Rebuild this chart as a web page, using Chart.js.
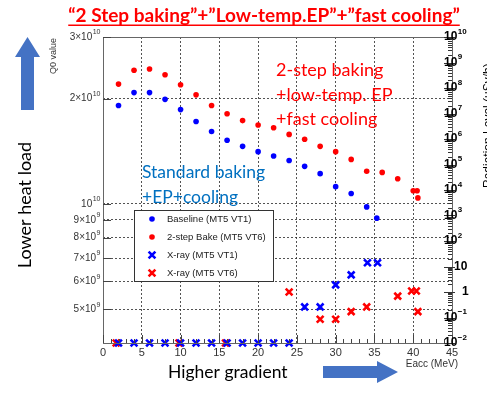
<!DOCTYPE html>
<html>
<head>
<meta charset="utf-8">
<script src="https://cdn.jsdelivr.net/npm/chart.js@4.4.1/dist/chart.umd.min.js"></script>
<style>
  html, body { margin: 0; padding: 0; background: #fff; }
  #wrap { width: 487px; height: 395px; position: relative; overflow: hidden; }
</style>
</head>
<body>
<div id="wrap"><canvas id="q0Chart" width="487" height="395"></canvas></div>
<script>
// Q0 vs Eacc (left log axis) and radiation level (right log axis)
const eaccBase = [2, 4, 6, 8, 10, 12, 14, 16, 18, 20, 22, 24, 26, 28, 30, 32, 34, 35.3];
const q0Base = [1.91e10, 2.08e10, 2.08e10, 1.99e10, 1.86e10, 1.72e10, 1.61e10, 1.52e10, 1.46e10,
  1.41e10, 1.37e10, 1.33e10, 1.28e10, 1.22e10, 1.12e10, 1.07e10, 9.8e9, 9.1e9];

const eaccBake = [2, 4, 6, 8, 10, 12, 14, 16, 18, 20, 22, 24, 26, 28, 30, 32, 34, 36, 38, 40, 40.5, 40.6];
const q0Bake = [2.20e10, 2.41e10, 2.43e10, 2.34e10, 2.19e10, 2.05e10, 1.91e10, 1.81e10, 1.73e10,
  1.68e10, 1.65e10, 1.58e10, 1.53e10, 1.46e10, 1.41e10, 1.34e10, 1.24e10, 1.23e10, 1.18e10,
  1.09e10, 1.09e10, 1.04e10];

const eaccXrayBase = [2, 4, 6, 8, 10, 12, 14, 16, 18, 20, 22, 24, 26, 28, 30, 32, 34.1, 35.4];
const doseBase = [0.01, 0.01, 0.01, 0.01, 0.01, 0.01, 0.01, 0.01, 0.01, 0.01, 0.01, 0.01,
  0.26, 0.26, 1.9, 4.7, 14, 14];

const eaccXrayBake = [1.7, 9.8, 15.8, 24, 28, 30, 32, 34, 38, 39.8, 40.4, 40.6];
const doseBake = [0.01, 0.01, 0.01, 1.0, 0.085, 0.085, 0.17, 0.26, 0.69, 1.1, 1.1, 0.17];

const xTicks = [0, 5, 10, 15, 20, 25, 30, 35, 40, 45];
const q0Ticks = [5e9, 6e9, 7e9, 8e9, 9e9, 1e10, 2e10, 3e10];
const q0Labels = [['5×10', '9'], ['6×10', '9'], ['7×10', '9'], ['8×10', '9'], ['9×10', '9'],
  ['10', '10'], ['2×10', '10'], ['3×10', '10']];
const doseExps = [-2, -1, 0, 1, 2, 3, 4, 5, 6, 7, 8, 9, 10];

const legendNames = ['Baseline (MT5 VT1)', '2-step Bake (MT5 VT6)', 'X-ray (MT5 VT1)', 'X-ray (MT5 VT6)'];

const BLUE = '#0000ff';
const RED = '#ff0000';
const AXIS_FONT = '"Liberation Sans", Arial, sans-serif';
const TEXT_FONT = 'Lato, "Open Sans", sans-serif';
const GRID_COLOR = 'rgba(40,40,40,0.8)';

const toPts = (xs, ys) => xs.map((x, i) => ({ x, y: ys[i] }));

const dotStyle = (color) => ({
  pointStyle: 'circle', pointRadius: 2.8, pointBackgroundColor: color,
  pointBorderColor: color, pointBorderWidth: 0, showLine: false, clip: false
});
const crossStyle = (color) => ({
  pointStyle: 'crossRot', pointRadius: 4.8, pointBorderColor: color,
  pointBackgroundColor: color, pointBorderWidth: 2.6, showLine: false, clip: false
});

// text with a superscript exponent; align = 'right' | 'left'
function drawPow(ctx, base, exp, x, y, size, weight, align) {
  const baseFont = `${weight} ${size}px ${AXIS_FONT}`;
  const supFont = `${weight} ${Math.round(size * 0.68)}px ${AXIS_FONT}`;
  ctx.font = baseFont;
  const wb = ctx.measureText(base).width;
  ctx.font = supFont;
  const we = exp ? ctx.measureText(exp).width : 0;
  const x0 = align === 'right' ? x - wb - we : x;
  ctx.textAlign = 'left';
  ctx.textBaseline = 'middle';
  ctx.font = baseFont;
  ctx.fillText(base, x0, y);
  if (exp) {
    ctx.font = supFont;
    ctx.fillText(exp, x0 + wb + 0.5, y - size * 0.45);
  }
}

function blockArrow(ctx, pts, color) {
  ctx.save();
  ctx.fillStyle = color;
  ctx.beginPath();
  pts.forEach(([x, y], i) => (i ? ctx.lineTo(x, y) : ctx.moveTo(x, y)));
  ctx.closePath();
  ctx.fill();
  ctx.restore();
}

const decorations = {
  id: 'decorations',
  afterDraw(chart) {
    const { ctx, chartArea: a, scales } = chart;
    const sx = scales.x, sy = scales.y, sy2 = scales.y2;
    ctx.save();

    // frame
    ctx.strokeStyle = '#666';
    ctx.lineWidth = 1;
    ctx.strokeRect(a.left + 0.5, a.top + 0.5, a.right - a.left, a.bottom - a.top);

    // x ticks (major every 5, minor every 1)
    ctx.strokeStyle = '#444';
    ctx.beginPath();
    for (let v = 0; v <= 45; v++) {
      const px = Math.round(sx.getPixelForValue(v)) + 0.5;
      const len = v % 5 === 0 ? 8 : 4;
      ctx.moveTo(px, a.bottom);
      ctx.lineTo(px, a.bottom - len);
    }
    ctx.stroke();

    // x tick labels
    ctx.fillStyle = '#333';
    ctx.font = `11px ${AXIS_FONT}`;
    ctx.textAlign = 'center';
    ctx.textBaseline = 'top';
    xTicks.forEach(v => ctx.fillText(String(v), sx.getPixelForValue(v), a.bottom + 4));

    // left axis ticks and labels
    ctx.beginPath();
    q0Ticks.forEach(v => {
      const py = Math.round(sy.getPixelForValue(v)) + 0.5;
      ctx.moveTo(a.left, py);
      ctx.lineTo(a.left + 8, py);
    });
    ctx.stroke();
    ctx.fillStyle = '#333';
    q0Ticks.forEach((v, i) => {
      drawPow(ctx, q0Labels[i][0], q0Labels[i][1], a.left - 3, sy.getPixelForValue(v), 10, 'normal', 'right');
    });

    // right axis: decade ticks plus minor ticks
    ctx.strokeStyle = '#333';
    ctx.beginPath();
    doseExps.forEach(e => {
      const py = Math.round(sy2.getPixelForValue(Math.pow(10, e))) + 0.5;
      ctx.moveTo(a.right - 8, py);
      ctx.lineTo(a.right + 3, py);
      if (e < 10) {
        for (let m = 2; m <= 9; m++) {
          const pm = Math.round(sy2.getPixelForValue(m * Math.pow(10, e))) + 0.5;
          ctx.moveTo(a.right - 4, pm);
          ctx.lineTo(a.right, pm);
        }
      }
    });
    ctx.stroke();
    ctx.fillStyle = '#000';
    doseExps.forEach(e => {
      const py = sy2.getPixelForValue(Math.pow(10, e));
      if (e === 0) drawPow(ctx, '1', '', a.right + 10, py, 12, 'bold', 'left');
      else if (e === 1) drawPow(ctx, '10', '', a.right + 2, py, 12, 'bold', 'left');
      else drawPow(ctx, '10', String(e).replace('-', '−'), a.right - 8, py, 12, 'bold', 'left');
    });

    // axis titles
    ctx.fillStyle = '#333';
    ctx.font = `10px ${AXIS_FONT}`;
    ctx.textAlign = 'right';
    ctx.textBaseline = 'alphabetic';
    ctx.fillText('Eacc (MeV)', 458, 367);

    ctx.save();
    ctx.translate(54, 38);
    ctx.rotate(-Math.PI / 2);
    ctx.textAlign = 'right';
    ctx.textBaseline = 'middle';
    ctx.font = `9px ${AXIS_FONT}`;
    ctx.fillText('Q0 value', 0, 0);
    ctx.restore();

    ctx.save();
    ctx.translate(489, 188);
    ctx.rotate(-Math.PI / 2);
    ctx.textAlign = 'left';
    ctx.textBaseline = 'middle';
    ctx.font = `12px ${AXIS_FONT}`;
    ctx.fillStyle = '#000';
    ctx.fillText('Radiation Level (uSv/h)', 0, 0);
    ctx.restore();

    // legend box
    const lx = 134, ly = 210, lw = 139, lh = 71;
    ctx.fillStyle = '#fff';
    ctx.fillRect(lx, ly, lw, lh);
    ctx.strokeStyle = '#333';
    ctx.lineWidth = 1;
    ctx.strokeRect(lx + 0.5, ly + 0.5, lw, lh);
    chart.data.datasets.forEach((ds, i) => {
      const cy = ly + 9 + i * 18;
      ctx.fillStyle = ds.pointBackgroundColor;
      ctx.strokeStyle = ds.pointBorderColor;
      ctx.lineWidth = ds.pointBorderWidth;
      if (ds.pointStyle === 'circle') {
        ctx.beginPath();
        ctx.arc(152, cy, ds.pointRadius, 0, Math.PI * 2);
        ctx.fill();
      } else {
        Chart.helpers.drawPoint(ctx, {
          pointStyle: 'crossRot', radius: ds.pointRadius, rotation: 0, borderWidth: ds.pointBorderWidth
        }, 152, cy);
      }
      ctx.fillStyle = '#222';
      ctx.font = `9.5px ${AXIS_FONT}`;
      ctx.textAlign = 'left';
      ctx.textBaseline = 'middle';
      ctx.fillText(legendNames[i], 167, cy + 0.5);
    });

    // headline
    ctx.fillStyle = RED;
    ctx.font = `bold 19px ${TEXT_FONT}`;
    ctx.textAlign = 'center';
    ctx.textBaseline = 'alphabetic';
    const title = '“2 Step baking”+”Low-temp.EP”+”fast cooling”';
    ctx.fillText(title, 264, 22);
    const tw = ctx.measureText(title).width;
    ctx.fillRect(264 - tw / 2, 24.5, tw, 1.5);

    // annotations
    ctx.textAlign = 'left';
    ctx.font = `18px ${TEXT_FONT}`;
    ctx.fillText('2-step baking', 276, 76);
    ctx.fillText('+low-temp. EP', 276, 101);
    ctx.fillText('+fast cooling', 276, 125);

    ctx.fillStyle = '#0070c0';
    ctx.font = `17.5px ${TEXT_FONT}`;
    ctx.fillText('Standard baking', 142, 178);
    ctx.fillText('+EP+cooling', 142, 203);

    ctx.fillStyle = '#000';
    ctx.font = `17.5px ${TEXT_FONT}`;
    ctx.fillText('Higher gradient', 168, 378);

    ctx.save();
    ctx.translate(31, 205);
    ctx.rotate(-Math.PI / 2);
    ctx.textAlign = 'center';
    ctx.textBaseline = 'alphabetic';
    ctx.font = `18px ${TEXT_FONT}`;
    ctx.fillText('Lower heat load', 0, 0);
    ctx.restore();

    // block arrows
    blockArrow(ctx, [[21, 110], [21, 57], [15, 57], [27.5, 37], [40, 57], [34, 57], [34, 110]], '#4472c4');
    blockArrow(ctx, [[323, 366], [377, 366], [377, 361], [398, 372], [377, 383], [377, 378], [323, 378]], '#4472c4');

    ctx.restore();
  }
};

new Chart(document.getElementById('q0Chart'), {
  type: 'scatter',
  data: {
    datasets: [
      { label: legendNames[0], data: toPts(eaccBase, q0Base), yAxisID: 'y', ...dotStyle(BLUE) },
      { label: legendNames[1], data: toPts(eaccBake, q0Bake), yAxisID: 'y', ...dotStyle(RED) },
      { label: legendNames[2], data: toPts(eaccXrayBase, doseBase), yAxisID: 'y2', ...crossStyle(BLUE) },
      { label: legendNames[3], data: toPts(eaccXrayBake, doseBake), yAxisID: 'y2', ...crossStyle(RED) }
    ]
  },
  options: {
    responsive: false,
    animation: false,
    layout: { padding: { left: 103, right: 35, top: 37, bottom: 52 } },
    plugins: { legend: { display: false }, tooltip: { enabled: false } },
    scales: {
      x: {
        type: 'linear', min: 0, max: 45,
        afterBuildTicks: s => { s.ticks = xTicks.map(v => ({ value: v })); },
        afterFit: s => { s.height = 0; },
        ticks: { display: false },
        border: { display: false, dash: [2, 2] },
        grid: {
          drawTicks: false,
          color: c => (c.tick && (c.tick.value === 0 || c.tick.value === 45) ? 'rgba(0,0,0,0)' : GRID_COLOR),
          lineWidth: 1
        }
      },
      y: {
        type: 'logarithmic', position: 'left', min: 4e9, max: 3e10,
        afterBuildTicks: s => { s.ticks = q0Ticks.map(v => ({ value: v })); },
        afterFit: s => { s.width = 0; },
        ticks: { display: false },
        border: { display: false, dash: [2, 2] },
        grid: {
          drawTicks: false,
          color: c => (c.tick && c.tick.value === 3e10 ? 'rgba(0,0,0,0)' : GRID_COLOR),
          lineWidth: 1
        }
      },
      y2: {
        type: 'logarithmic', position: 'right', min: 1e-2, max: 1e10,
        afterFit: s => { s.width = 0; },
        ticks: { display: false },
        border: { display: false },
        grid: { display: false }
      }
    }
  },
  plugins: [decorations]
});
</script>
</body>
</html>
